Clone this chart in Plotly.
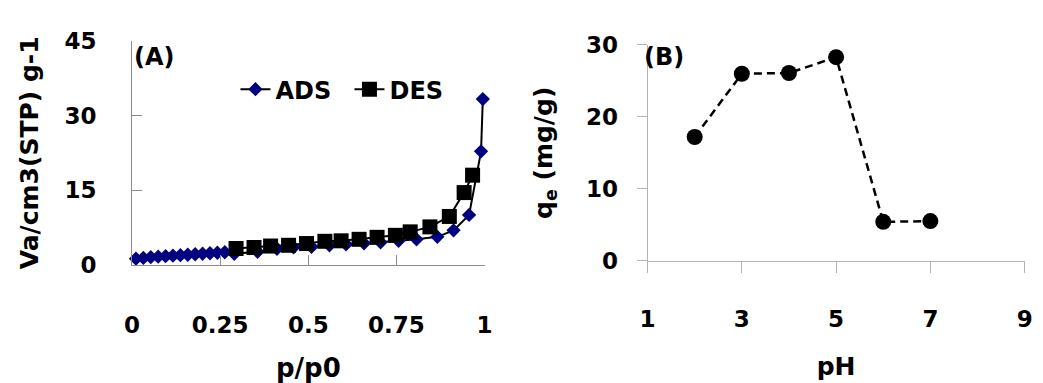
import plotly.graph_objects as go

# ---- Panel A data (N2 isotherm) ----
ads_x = [0.011, 0.032, 0.053, 0.074, 0.095, 0.116, 0.137, 0.158, 0.179, 0.200, 0.221, 0.242, 0.263,
         0.290, 0.356, 0.411, 0.458, 0.509, 0.560, 0.607, 0.658, 0.705, 0.756, 0.807, 0.866, 0.912,
         0.956, 0.990, 0.995]
ads_y = [1.2, 1.35, 1.5, 1.6, 1.7, 1.8, 1.9, 2.0, 2.1, 2.2, 2.3, 2.4, 2.5,
         2.2, 2.6, 3.2, 3.5, 3.6, 3.9, 4.1, 4.3, 4.5, 4.8, 5.1, 5.6, 6.9,
         10.0, 22.8, 33.3]
des_x = [0.966, 0.942, 0.900, 0.845, 0.789, 0.747, 0.695, 0.644, 0.593, 0.547, 0.495, 0.444, 0.393, 0.346, 0.295]
des_y = [18.0, 14.5, 9.7, 7.6, 6.6, 5.9, 5.5, 5.1, 4.8, 4.7, 4.25, 3.9, 3.75, 3.45, 3.25]
a_xticks = [0, 0.25, 0.5, 0.75, 1]
a_xticklabels = ["0", "0.25", "0.5", "0.75", "1"]
a_yticks = [0, 15, 30, 45]

# ---- Panel B data (pH effect) ----
ph = [2, 3, 4, 5, 6, 7]
qe = [17.2, 26.0, 26.1, 28.3, 5.4, 5.5]
b_xticks = [1, 3, 5, 7, 9]
b_yticks = [0, 10, 20, 30]

FONT = "DejaVu Sans"
W, H = 1043, 383
A_AX = "#8c8c8c"
B_AX = "#b4b4b4"

fig = go.Figure()
fig.add_trace(go.Scatter(
    x=ads_x, y=ads_y, mode="lines+markers", name="ADS",
    line=dict(color="black", width=2),
    marker=dict(symbol="diamond", size=11, color="#000080", line=dict(width=0)),
    cliponaxis=False, xaxis="x", yaxis="y"))
fig.add_trace(go.Scatter(
    x=des_x, y=des_y, mode="lines+markers", name="DES",
    line=dict(color="black", width=2),
    marker=dict(symbol="square", size=15, color="black", line=dict(width=0)),
    cliponaxis=False, xaxis="x", yaxis="y"))
fig.add_trace(go.Scatter(
    x=ph, y=qe, mode="lines+markers", name="qe", showlegend=False,
    line=dict(color="black", width=2.5, dash="8px,5px"),
    marker=dict(symbol="circle", size=16, color="black"),
    cliponaxis=False, xaxis="x2", yaxis="y2"))

def px_x(p):
    return p / W

def px_y(p):
    return 1 - p / H

tickfont = dict(family=FONT, size=23, color="black", weight="bold")
titlefont = dict(family=FONT, size=25, color="black", weight="bold")

fig.update_layout(
    width=W, height=H,
    margin=dict(l=0, r=0, t=0, b=0),
    paper_bgcolor="white", plot_bgcolor="white",
    font=dict(family=FONT, color="black"),
    xaxis=dict(domain=[px_x(126), px_x(484)], range=[0, 1], anchor="y",
               showgrid=False, zeroline=False, showline=True, linecolor=A_AX, linewidth=1,
               ticks="inside", ticklen=10, tickcolor=A_AX, tickwidth=1,
               tickvals=a_xticks, ticktext=a_xticklabels, tickfont=tickfont,
               ticklabelstandoff=40,
               title=dict(text="p/p0", font=dict(family=FONT, size=26, color="black", weight="bold"), standoff=26)),
    yaxis=dict(domain=[px_y(270), px_y(30)], range=[0, 45], anchor="x",
               showgrid=False, zeroline=False, showline=True, linecolor=A_AX, linewidth=1,
               ticks="inside", ticklen=10, tickcolor=A_AX, tickwidth=1,
               tickvals=a_yticks, tickfont=tickfont, ticklabelstandoff=30,
               title=dict(text="Va/cm3(STP) g-1", font=titlefont, standoff=18)),
    xaxis2=dict(domain=[px_x(649.5), px_x(1032.5)], range=[1, 9], anchor="y2",
                showgrid=False, zeroline=False, showline=True, linecolor=B_AX, linewidth=1,
                ticks="outside", ticklen=11, tickcolor=B_AX, tickwidth=1,
                tickvals=b_xticks, tickfont=tickfont, ticklabelstandoff=27,
                title=dict(text="pH", font=titlefont, standoff=26)),
    yaxis2=dict(domain=[px_y(265.7), px_y(34.3)], range=[0, 30], anchor="x2",
                showgrid=False, zeroline=False, showline=True, linecolor=B_AX, linewidth=1,
                ticks="outside", ticklen=10, tickcolor=B_AX, tickwidth=1,
                tickvals=b_yticks, tickfont=tickfont, ticklabelstandoff=14,
                title=dict(text="q<sub>e</sub> (mg/g)", font=titlefont, standoff=26)),
    showlegend=True,
    legend=dict(orientation="h", x=px_x(231), y=px_y(58), xanchor="left", yanchor="top",
                bgcolor="rgba(0,0,0,0)", font=dict(family=FONT, size=24, color="black", weight="bold"),
                itemwidth=30, tracegroupgap=0, entrywidth=69, entrywidthmode="pixels"),
    annotations=[
        dict(text="(A)", x=px_x(126), y=px_y(47), xref="paper", yref="paper",
             xanchor="left", yanchor="middle", showarrow=False,
             font=dict(family=FONT, size=24, color="black", weight="bold")),
        dict(text="(B)", x=px_x(644), y=px_y(47), xref="paper", yref="paper",
             xanchor="left", yanchor="middle", showarrow=False,
             font=dict(family=FONT, size=24, color="black", weight="bold")),
    ],
)

fig.write_html("out.html")
